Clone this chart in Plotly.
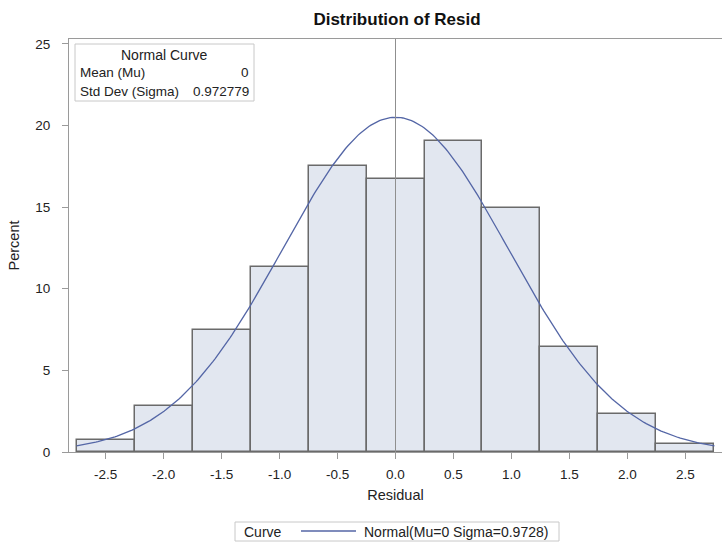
import math
import plotly.graph_objects as go

# Histogram of residuals: bin midpoints (width 0.5) and percent of observations
bin_mids = [-2.5, -2.0, -1.5, -1.0, -0.5, 0.0, 0.5, 1.0, 1.5, 2.0, 2.5]
percents = [0.75, 2.84, 7.47, 11.36, 17.52, 16.75, 19.06, 14.93, 6.41, 2.30, 0.49]
bin_width = 0.5

# Fitted normal parameters
mu = 0.0
sigma = 0.972779
curve_label = "Normal(Mu=0 Sigma=0.9728)"

x_ticks = [-2.5, -2.0, -1.5, -1.0, -0.5, 0.0, 0.5, 1.0, 1.5, 2.0, 2.5]
x_tick_text = ["-2.5", "-2.0", "-1.5", "-1.0", "-0.5", "0.0", "0.5", "1.0", "1.5", "2.0", "2.5"]
y_ticks = [0, 5, 10, 15, 20, 25]

# Normal density scaled to percent per bin
lo = bin_mids[0] - bin_width / 2
hi = bin_mids[-1] + bin_width / 2
n_pts = 300
curve_x = [lo + (hi - lo) * i / (n_pts - 1) for i in range(n_pts)]
curve_y = [100 * bin_width * math.exp(-0.5 * ((v - mu) / sigma) ** 2) / (sigma * math.sqrt(2 * math.pi))
           for v in curve_x]

W, H = 722, 542
L, R, T, B = 69, 0, 39, 90
pw, ph = W - L - R, H - T - B


def px_x(p):
    return (p - L) / pw


def px_y(p):
    return (H - B - p) / ph


FONT = "Liberation Sans, Arial, sans-serif"
AXIS = "#9a9a9a"
TEXT = "#222222"
CURVE = "#5466a6"
BOX = "#c8c8c8"

fig = go.Figure()
fig.add_trace(go.Bar(
    x=bin_mids, y=percents, width=bin_width,
    marker=dict(color="#e2e7f0", line=dict(color="#6a6a6a", width=1.5)),
    showlegend=False, hoverinfo="x+y",
))
fig.add_trace(go.Scatter(
    x=curve_x, y=curve_y, mode="lines",
    line=dict(color=CURVE, width=1.3),
    name=curve_label, showlegend=False,
))

# Vertical reference line at zero
fig.add_shape(type="line", xref="x", yref="paper", x0=0, x1=0, y0=0, y1=1,
              line=dict(color="#8f8f8f", width=1), layer="above")

# Inset box with the fitted parameters
fig.add_shape(type="rect", xref="paper", yref="paper",
              x0=px_x(75), x1=px_x(254), y0=px_y(101), y1=px_y(44),
              line=dict(color=BOX, width=1), fillcolor="white", layer="above")
fig.add_annotation(xref="paper", yref="paper", x=px_x(164), y=px_y(55), text="Normal Curve",
                   showarrow=False, xanchor="center", yanchor="middle",
                   font=dict(family=FONT, size=14, color=TEXT))
for yy, left, right in [(73, "Mean (Mu)", "0"), (91, "Std Dev (Sigma)", "0.972779")]:
    fig.add_annotation(xref="paper", yref="paper", x=px_x(78), y=px_y(yy), text=left,
                       showarrow=False, xanchor="left", yanchor="middle",
                       font=dict(family=FONT, size=13.5, color=TEXT))
    fig.add_annotation(xref="paper", yref="paper", x=px_x(251), y=px_y(yy), text=right,
                       showarrow=False, xanchor="right", yanchor="middle",
                       font=dict(family=FONT, size=13.5, color=TEXT))

# Legend strip below the axis: "Curve" group label, line sample and entry text
fig.add_shape(type="rect", xref="paper", yref="paper",
              x0=px_x(235), x1=px_x(559), y0=px_y(541), y1=px_y(522),
              line=dict(color=BOX, width=1), fillcolor="white", layer="above")
fig.add_annotation(xref="paper", yref="paper", x=px_x(242), y=px_y(531.5), text="Curve",
                   showarrow=False, xanchor="left", yanchor="middle",
                   font=dict(family=FONT, size=14, color=TEXT))
fig.add_shape(type="line", xref="paper", yref="paper",
              x0=px_x(301), x1=px_x(356), y0=px_y(531), y1=px_y(531),
              line=dict(color=CURVE, width=1.3), layer="above")
fig.add_annotation(xref="paper", yref="paper", x=px_x(362), y=px_y(531.5), text=curve_label,
                   showarrow=False, xanchor="left", yanchor="middle",
                   font=dict(family=FONT, size=14, color=TEXT))

fig.update_layout(
    width=W, height=H,
    margin=dict(l=L, r=R, t=T, b=B, autoexpand=False),
    paper_bgcolor="white", plot_bgcolor="white",
    font=dict(family=FONT, size=13.5, color=TEXT),
    title=dict(text="<b>Distribution of Resid</b>", xref="paper", x=px_x(397), xanchor="center",
               y=1 - 19 / H, yanchor="middle", font=dict(family=FONT, size=17, color="#111111")),
    bargap=0,
    showlegend=False,
    xaxis=dict(
        range=[-2.815, 2.815], tickvals=x_ticks, ticktext=x_tick_text,
        showline=True, linecolor=AXIS, linewidth=1, mirror=True,
        ticks="outside", ticklen=6, tickcolor=AXIS, ticklabelstandoff=4,
        showgrid=False, zeroline=False, automargin=False,
        title=dict(text="Residual", standoff=8, font=dict(family=FONT, size=14.5, color=TEXT)),
        tickfont=dict(family=FONT, size=13.5, color=TEXT),
    ),
    yaxis=dict(
        range=[0, 25.3], tickvals=y_ticks,
        showline=True, linecolor=AXIS, linewidth=1,
        ticks="outside", ticklen=6, tickcolor=AXIS, ticklabelstandoff=9,
        showgrid=False, zeroline=False, automargin=False,
        title=dict(text="Percent", standoff=12, font=dict(family=FONT, size=14.5, color=TEXT)),
        tickfont=dict(family=FONT, size=13.5, color=TEXT),
    ),
)

fig.write_html("out.html")
